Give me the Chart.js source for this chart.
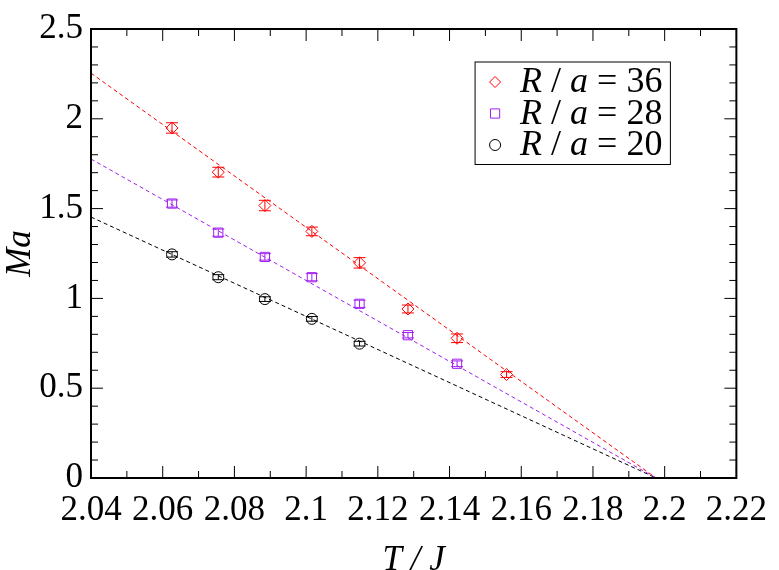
<!DOCTYPE html>
<html>
<head>
<meta charset="utf-8">
<script src="https://cdn.jsdelivr.net/npm/chart.js@4.4.0/dist/chart.umd.min.js"></script>
</head>
<body style="margin:0">
<canvas id="warm" width="40" height="40" style="position:absolute;left:-60px;top:0"></canvas>
<canvas id="massChart" width="779" height="570"></canvas>
<script>
// temperatures T/J of the runs
const temps = [2.0626, 2.0755, 2.0885, 2.1016, 2.1149, 2.1284, 2.1421, 2.1559];

// R/a = 36
const mass36 = [1.949, 1.703, 1.517, 1.373, 1.198, 0.941, 0.778, 0.576];
const err36 = [0.029, 0.027, 0.029, 0.024, 0.029, 0.022, 0.024, 0.016];
// R/a = 28
const mass28 = [1.528, 1.366, 1.231, 1.118, 0.970, 0.795, 0.636];
const err28 = [0.020, 0.020, 0.018, 0.020, 0.020, 0.015, 0.016];
// R/a = 20
const mass20 = [1.245, 1.118, 0.996, 0.886, 0.748];
const err20 = [0.015, 0.014, 0.013, 0.013, 0.013];

// linear fits: value at T = 2.04 and the common zero crossing
const fitStart = [2.254, 1.776, 1.453];
const fitZero = 2.1976;

const radii = [36, 28, 20];
const colors = ['#ff0000', '#a020f0', '#000000'];
const styles = ['rectRot', 'rect', 'circle'];

const xTicks = [2.04, 2.06, 2.08, 2.1, 2.12, 2.14, 2.16, 2.18, 2.2, 2.22];
const yTicks = [0, 0.5, 1, 1.5, 2, 2.5];

// touch the serif faces once before the chart measures anything
const warm = document.getElementById( 'warm' ).getContext( '2d' );
warm.font = "35px 'Liberation Serif'";
warm.fillText( '2.04', 0, 20 );
warm.font = "italic 35px 'Liberation Serif'";
warm.fillText( 'Ma', 0, 20 );

Chart.defaults.font.family = "'Liberation Serif'";
Chart.defaults.color = '#000';

function points( ys ) {
	return ys.map( function ( y, i ) { return { x: temps[ i ], y: y }; } );
}

let series = [ mass36, mass28, mass20 ],
	errors = [ err36, err28, err20 ],
	radiusOf = [ 6, 6.5, 5.5 ],
	datasets = [];

// fit lines first, so the markers sit on top
series.forEach( function ( s, k ) {
	datasets.push( {
		type: 'line',
		data: [ { x: xTicks[ 0 ], y: fitStart[ k ] }, { x: fitZero, y: 0 } ],
		borderColor: colors[ k ],
		borderWidth: 1,
		borderDash: [ 4, 3 ],
		pointRadius: 0,
		fill: false
	} );
} );

series.forEach( function ( s, k ) {
	datasets.push( {
		type: 'scatter',
		label: 'R / a = ' + radii[ k ],
		radius: radii[ k ],
		data: points( s ),
		errors: errors[ k ],
		borderColor: colors[ k ],
		backgroundColor: 'rgba(0,0,0,0)',
		borderWidth: 1,
		pointStyle: styles[ k ],
		pointRadius: radiusOf[ k ]
	} );
} );

function line( ctx, x1, y1, x2, y2 ) {
	ctx.beginPath();
	ctx.moveTo( x1, y1 );
	ctx.lineTo( x2, y2 );
	ctx.stroke();
}

// error bars, inward ticks on every side, frame and the boxed legend
const decorations = {
	id: 'decorations',
	afterDatasetsDraw( chart ) {
		const ctx = chart.ctx, a = chart.chartArea,
			x = chart.scales.x, y = chart.scales.y;
		ctx.save();

		// error bars
		chart.data.datasets.forEach( function ( ds, i ) {
			if ( !ds.errors ) return;
			const meta = chart.getDatasetMeta( i );
			ctx.strokeStyle = ds.borderColor;
			ctx.lineWidth = 1;
			meta.data.forEach( function ( el, j ) {
				const v = ds.data[ j ].y, e = ds.errors[ j ];
				const top = y.getPixelForValue( v + e ), bot = y.getPixelForValue( v - e );
				line( ctx, el.x, top, el.x, bot );
				line( ctx, el.x - 6, top, el.x + 6, top );
				line( ctx, el.x - 6, bot, el.x + 6, bot );
			} );
		} );

		// ticks
		ctx.strokeStyle = '#000';
		ctx.lineWidth = 1;
		xTicks.forEach( function ( v, i ) {
			const px = x.getPixelForValue( v );
			line( ctx, px, a.bottom, px, a.bottom - 12 );
			line( ctx, px, a.top, px, a.top + 12 );
			if ( i < xTicks.length - 1 ) {
				const m = x.getPixelForValue( ( v + xTicks[ i + 1 ] ) / 2 );
				line( ctx, m, a.bottom, m, a.bottom - 7 );
				line( ctx, m, a.top, m, a.top + 7 );
			}
		} );
		yTicks.forEach( function ( v, i ) {
			const py = y.getPixelForValue( v );
			line( ctx, a.left, py, a.left + 12, py );
			line( ctx, a.right, py, a.right - 12, py );
			if ( i < yTicks.length - 1 ) {
				for ( let s = 1; s < 5; s++ ) {
					const m = y.getPixelForValue( v + ( yTicks[ i + 1 ] - v ) * s / 5 );
					line( ctx, a.left, m, a.left + 7, m );
					line( ctx, a.right, m, a.right - 7, m );
				}
			}
		} );

		// frame
		ctx.lineWidth = 2;
		ctx.strokeRect( a.left, a.top, a.right - a.left, a.bottom - a.top );

		// legend
		const rowH = 31.5;
		const roman = "36px 'Liberation Serif'", italic = "italic 36px 'Liberation Serif'";
		const entries = chart.data.datasets.filter( function ( ds ) { return ds.label; } );
		const partsOf = function ( ds ) {
			return [ [ 'R', italic ], [ ' / ', roman ], [ 'a', italic ], [ ' = ' + ds.radius, roman ] ];
		};
		let textW = 0;
		entries.forEach( function ( ds ) {
			let w = 0;
			partsOf( ds ).forEach( function ( p ) { ctx.font = p[ 1 ]; w += ctx.measureText( p[ 0 ] ).width; } );
			textW = Math.max( textW, w );
		} );
		const boxR = a.right - 66, boxT = a.top + 33,
			boxW = 45 + textW + 8, boxL = boxR - boxW,
			boxH = entries.length * rowH + 8;
		ctx.lineWidth = 1;
		ctx.strokeStyle = '#000';
		ctx.strokeRect( boxL, boxT, boxW, boxH );

		entries.forEach( function ( ds, k ) {
			const cy = boxT + 20 + k * rowH;
			ctx.strokeStyle = ds.borderColor;
			ctx.fillStyle = 'rgba(0,0,0,0)';
			Chart.helpers.drawPoint( ctx, {
				pointStyle: ds.pointStyle,
				radius: ds.pointStyle === 'rect' ? 6.5 : 5.5,
				rotation: 0,
				borderWidth: 1
			}, boxL + 20, cy );

			ctx.fillStyle = '#000';
			ctx.textBaseline = 'middle';
			ctx.textAlign = 'left';
			let tx = boxL + 45;
			partsOf( ds ).forEach( function ( p ) {
				ctx.font = p[ 1 ];
				ctx.fillText( p[ 0 ], tx, cy + 1 );
				tx += ctx.measureText( p[ 0 ] ).width;
			} );
		} );

		ctx.restore();
	}
};

const chartCtx = document.getElementById( 'massChart' ).getContext( '2d' );
new Chart( chartCtx, {
	data: { datasets: datasets },
	plugins: [ decorations ],
	options: {
		responsive: false,
		animation: false,
		layout: { padding: { left: 0, right: 34, top: 21, bottom: 0 } },
		plugins: {
			legend: { display: false },
			tooltip: { enabled: false }
		},
		scales: {
			x: {
				type: 'linear',
				min: xTicks[ 0 ],
				max: xTicks[ xTicks.length - 1 ],
				afterBuildTicks: function ( scale ) {
					scale.ticks = xTicks.map( function ( v ) { return { value: v }; } );
				},
				afterFit: function ( scale ) { scale.height = 92; },
				grid: { display: false, drawTicks: false },
				border: { display: false },
				ticks: {
					color: '#000',
					padding: 12,
					maxRotation: 0,
					autoSkip: false,
					font: { family: "'Liberation Serif'", size: 35 },
					callback: function ( v ) { return String( +v.toFixed( 2 ) ); }
				},
				title: {
					display: true,
					text: 'T / J',
					color: '#000',
					padding: 0,
					font: { family: "'Liberation Serif'", size: 35, style: 'italic', lineHeight: 0.55 }
				}
			},
			y: {
				type: 'linear',
				min: yTicks[ 0 ],
				max: yTicks[ yTicks.length - 1 ],
				afterBuildTicks: function ( scale ) {
					scale.ticks = yTicks.map( function ( v ) { return { value: v }; } );
				},
				afterFit: function ( scale ) { scale.width = 91; },
				grid: { display: false, drawTicks: false },
				border: { display: false },
				ticks: {
					color: '#000',
					padding: 8,
					font: { family: "'Liberation Serif'", size: 35 },
					callback: function ( v ) { return String( v ); }
				},
				title: {
					display: true,
					text: 'Ma',
					color: '#000',
					padding: 0,
					font: { family: "'Liberation Serif'", size: 35, style: 'italic', lineHeight: 1.2 }
				}
			}
		}
	}
} );
</script>
</body>
</html>
